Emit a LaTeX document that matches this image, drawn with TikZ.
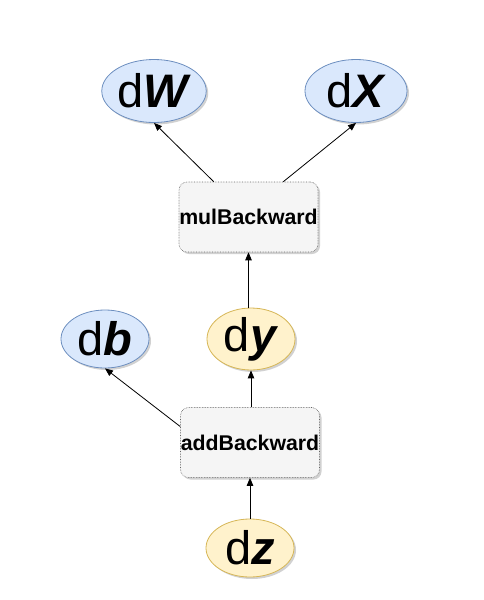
\documentclass[tikz,border=0pt]{standalone}
\usepackage{fontspec}
\setmainfont{Liberation Sans}
\usepackage{tikz}
\usetikzlibrary{positioning, arrows.meta, shapes.geometric, shadows}

\definecolor{gradfill}{HTML}{DAE8FC}
\definecolor{gradline}{HTML}{6C8EBF}
\definecolor{varfill}{HTML}{FFF2CC}
\definecolor{varline}{HTML}{D6B656}
\definecolor{opfill}{HTML}{F5F5F5}
\definecolor{opline}{HTML}{666666}

\tikzset{
    softshadow/.style={drop shadow={shadow xshift=2pt, shadow yshift=-2pt, fill=black, opacity=0.18}},
    gradnode/.style={ellipse, draw=gradline, fill=gradfill, line width=0.8pt, inner sep=0pt,
        softshadow, font=\fontsize{47}{50}\selectfont},
    varnode/.style={ellipse, draw=varline, fill=varfill, line width=0.8pt, inner sep=0pt,
        softshadow, minimum width=88pt, minimum height=58pt, font=\fontsize{47}{50}\selectfont},
    opnode/.style={rectangle, rounded corners=8pt, draw=opline, densely dotted, fill=opfill,
        line width=0.6pt, minimum width=139pt, minimum height=70pt, inner sep=0pt,
        softshadow, font=\bfseries\fontsize{21.3}{24}\selectfont},
    backarrow/.style={-{Triangle[length=8pt, width=6.5pt]}, line width=0.8pt}
}

\begin{document}
\begin{tikzpicture}[x=1pt, y=-1pt]
    \useasboundingbox (0,0) rectangle (484,600);

    % Gradients of the weights
    \node[gradnode, minimum width=102pt, minimum height=63pt] (dW) at (154,91) {d\textbf{\textit{W}}};
    \node[gradnode, minimum width=102pt, minimum height=63pt] (dX) at (356,91) {d\textbf{\textit{X}}};
    \node[gradnode, minimum width=88pt, minimum height=58pt] (db) at (105,339) {d\textbf{\textit{b}}};

    % Intermediate gradients
    \node[varnode] (dy) at (251,339) {d\textbf{\textit{y}}};
    \node[varnode] (dz) at (250,548) {d\textbf{\textit{z}}};

    % Backward operations
    \node[opnode] (mul) at (248.5,217) {mulBackward};
    \node[opnode] (add) at (250,442.5) {addBackward};

    % Connections
    \draw[backarrow] ([xshift=35pt]mul.north west) -- (dW.south);
    \draw[backarrow] ([xshift=-35pt]mul.north east) -- (dX.south);
    \draw[backarrow] (dy.north -| mul.south) -- (mul.south);
    \draw[backarrow] (add.north -| dy.south) -- (dy.south);
    \draw[backarrow] ([yshift=16pt]add.west) -- (db.south);
    \draw[backarrow] (dz.north) -- (dz.north |- add.south);
\end{tikzpicture}
\end{document}
